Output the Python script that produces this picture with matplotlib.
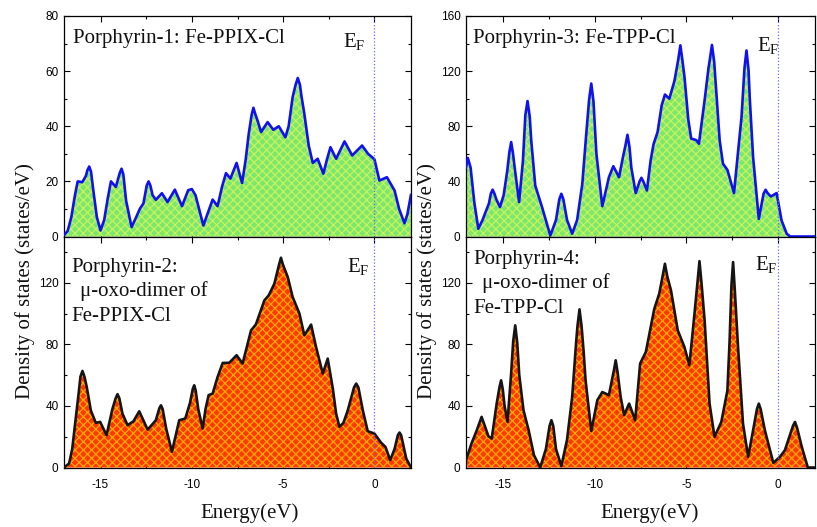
import numpy as np
import matplotlib
matplotlib.use("Agg")
import matplotlib.pyplot as plt
import matplotlib.ticker as ticker

plt.rcParams["font.family"] = ["Liberation Sans", "DejaVu Sans"]
plt.rcParams["mathtext.fontset"] = "custom"
plt.rcParams["mathtext.rm"] = "Liberation Serif"
plt.rcParams["axes.unicode_minus"] = False
plt.rcParams["hatch.linewidth"] = 0.9

# ---- data: (energy eV, DOS states/eV) ----
dos_ppix = [  # Porphyrin-1: Fe-PPIX-Cl
    (-17.0, 0.5), (-16.8, 2), (-16.6, 7), (-16.4, 15), (-16.25, 20), (-16.0, 19.7),
    (-15.8, 22), (-15.72, 24), (-15.62, 25.4), (-15.52, 23.5), (-15.4, 17), (-15.2, 7),
    (-15.0, 2.2), (-14.8, 6), (-14.6, 14), (-14.43, 20), (-14.16, 18), (-13.95, 23),
    (-13.85, 24.6), (-13.75, 22.5), (-13.6, 13), (-13.3, 3.4), (-13.05, 7), (-12.85, 10),
    (-12.65, 12), (-12.47, 18.5), (-12.37, 20), (-12.27, 18.5), (-12.15, 15),
    (-11.97, 13.3), (-11.64, 15.7), (-11.33, 12.5), (-10.93, 17), (-10.54, 11),
    (-10.2, 16.8), (-10.0, 17.2), (-9.8, 15), (-9.37, 4), (-9.1, 9), (-8.86, 13.4),
    (-8.59, 11), (-8.35, 18), (-8.13, 23), (-7.89, 21), (-7.55, 26.7), (-7.25, 19.4),
    (-7.05, 28), (-6.89, 37), (-6.73, 44), (-6.63, 46.7), (-6.53, 44.5), (-6.4, 42),
    (-6.21, 37.9), (-5.85, 41.5), (-5.54, 38.7), (-5.24, 40), (-4.88, 36), (-4.7, 40),
    (-4.48, 50.6), (-4.32, 55), (-4.2, 57.5), (-4.08, 55), (-4.0, 51), (-3.84, 44.5),
    (-3.6, 33), (-3.38, 26.7), (-3.11, 28.2), (-2.8, 22.8), (-2.6, 28), (-2.41, 32.4),
    (-2.1, 28.2), (-1.64, 34.5), (-1.22, 29.4), (-0.68, 33), (-0.35, 30), (0.0, 28),
    (0.27, 20.3), (0.68, 21.5), (1.1, 16.7), (1.35, 10), (1.64, 4.8), (1.8, 8),
    (2.0, 15.2)]

dos_ppix_dimer = [  # Porphyrin-2
    (-17.0, 0), (-16.72, 2.6), (-16.55, 12), (-16.39, 28.5), (-16.2, 48), (-16.1, 59),
    (-15.99, 62.7), (-15.88, 59), (-15.75, 52), (-15.53, 37), (-15.26, 29),
    (-15.02, 29.6), (-14.67, 21), (-14.35, 38), (-14.17, 45), (-14.07, 47.6),
    (-13.97, 45), (-13.8, 35), (-13.52, 27.5), (-13.2, 30), (-12.88, 36.5),
    (-12.42, 24.6), (-11.97, 30.7), (-11.78, 38.5), (-11.69, 40.4), (-11.6, 38),
    (-11.4, 25), (-11.09, 10.2), (-10.9, 20), (-10.69, 30.7), (-10.36, 31.8),
    (-10.1, 42), (-9.95, 51), (-9.87, 53.4), (-9.79, 50), (-9.65, 38), (-9.41, 25.3),
    (-9.25, 38), (-9.08, 47), (-8.86, 48), (-8.59, 58.8), (-8.31, 67.9), (-7.95, 68),
    (-7.55, 72.9), (-7.22, 67.5), (-6.76, 89), (-6.49, 93), (-6.03, 108.5),
    (-5.79, 111.8), (-5.48, 119.4), (-5.22, 132), (-5.12, 136.2), (-5.02, 132),
    (-4.75, 123.7), (-4.48, 110.7), (-4.11, 100), (-3.84, 85.8), (-3.47, 92.8),
    (-3.2, 78.3), (-2.83, 61), (-2.56, 70.7), (-2.28, 51.2), (-2.1, 35), (-1.92, 26.4),
    (-1.7, 29), (-1.46, 37.2), (-1.12, 52), (-1.0, 54.5), (-0.88, 52), (-0.64, 37.2),
    (-0.37, 23.6), (0.0, 22), (0.37, 16), (0.6, 13.4), (0.86, 4.8), (1.1, 12),
    (1.28, 21), (1.37, 22.7), (1.46, 21), (1.74, 5.8), (2.0, 0)]

dos_tpp = [  # Porphyrin-3: Fe-TPP-Cl
    (-17.0, 50), (-16.9, 57), (-16.75, 50), (-16.55, 25), (-16.33, 5.6), (-16.1, 12),
    (-15.97, 16.5), (-15.75, 24), (-15.65, 31), (-15.55, 34), (-15.45, 31),
    (-15.35, 27), (-15.15, 21.3), (-14.95, 30), (-14.75, 48), (-14.64, 61),
    (-14.54, 68.5), (-14.44, 60), (-14.35, 50), (-14.11, 25), (-13.9, 55),
    (-13.77, 88), (-13.65, 98.3), (-13.53, 87), (-13.45, 70), (-13.23, 37),
    (-12.86, 21.3), (-12.41, 0.7), (-12.1, 12), (-11.92, 27), (-11.81, 31),
    (-11.7, 27), (-11.5, 12), (-11.22, 2), (-10.95, 12), (-10.67, 38), (-10.45, 75),
    (-10.3, 99), (-10.18, 111), (-10.06, 98), (-9.9, 60), (-9.58, 22), (-9.22, 43),
    (-8.98, 51), (-8.67, 43), (-8.45, 58), (-8.32, 66), (-8.21, 73.8), (-8.1, 65),
    (-8.0, 50), (-7.76, 31.5), (-7.55, 40), (-7.45, 42.6), (-7.35, 40), (-7.15, 33.4),
    (-6.95, 55), (-6.79, 67), (-6.57, 75.8), (-6.35, 95), (-6.17, 103), (-5.93, 100),
    (-5.65, 113), (-5.45, 128), (-5.33, 138.7), (-5.21, 127), (-5.1, 115), (-4.9, 85),
    (-4.74, 71), (-4.47, 70), (-4.32, 67.3), (-4.01, 98.8), (-3.8, 122), (-3.73, 128),
    (-3.61, 139), (-3.49, 127), (-3.4, 110), (-3.19, 69.7), (-3.01, 52.8),
    (-2.77, 48.4), (-2.41, 31.5), (-2.2, 60), (-2.0, 86.7), (-1.84, 122),
    (-1.73, 135), (-1.62, 121), (-1.55, 100), (-1.37, 57.6), (-1.06, 12.8),
    (-0.8, 31), (-0.69, 33.9), (-0.58, 31.5), (-0.4, 29), (-0.09, 31.5), (0.18, 11.6),
    (0.46, 2), (0.65, 0), (2.0, 0)]

dos_tpp_dimer = [  # Porphyrin-4
    (-17.0, 4.8), (-16.7, 15.6), (-16.42, 24), (-16.15, 32.9), (-15.78, 20.3),
    (-15.6, 18.8), (-15.33, 41.5), (-15.18, 52), (-15.09, 56.6), (-15.0, 51),
    (-14.9, 40), (-14.74, 29.6), (-14.55, 60), (-14.43, 82), (-14.32, 92.3),
    (-14.21, 81), (-14.1, 60), (-13.87, 37.2), (-13.59, 24.2), (-13.3, 8), (-12.96, 0),
    (-12.65, 12), (-12.45, 27), (-12.35, 30.7), (-12.25, 27), (-12.1, 12),
    (-11.81, 0.9), (-11.5, 18), (-11.22, 45.8), (-11.0, 82), (-10.93, 92),
    (-10.82, 102.7), (-10.71, 92), (-10.6, 76), (-10.49, 56.6), (-10.18, 23.6),
    (-9.85, 43.7), (-9.58, 49), (-9.22, 47), (-8.95, 63), (-8.85, 69.6), (-8.75, 62),
    (-8.58, 45.8), (-8.39, 34), (-8.12, 41.5), (-7.79, 30.7), (-7.52, 67.5),
    (-7.21, 75), (-6.75, 103), (-6.48, 112.9), (-6.3, 124), (-6.17, 132.3),
    (-6.04, 124), (-5.84, 115), (-5.47, 89), (-5.11, 78.3), (-4.84, 66.4),
    (-4.56, 100), (-4.4, 120), (-4.29, 134), (-4.18, 120), (-4.01, 95.6),
    (-3.74, 41.5), (-3.47, 19.9), (-3.1, 29.6), (-2.77, 50), (-2.65, 82),
    (-2.55, 118), (-2.46, 133.4), (-2.37, 116), (-2.19, 78.3), (-1.92, 28.5),
    (-1.64, 6.9), (-1.37, 24.2), (-1.16, 38), (-1.06, 41.5), (-0.96, 38),
    (-0.73, 24.2), (-0.27, 3), (0.09, 6.9), (0.36, 11.2), (0.8, 27), (0.91, 29.6),
    (1.02, 26), (1.28, 13.4), (1.61, 0), (2.0, 0)]

titles = {
    "p1": [(73, 43, "Porphyrin-1: Fe-PPIX-Cl")],
    "p2": [(71, 272, "Porphyrin-2:"), (80, 296, "\u03bc-oxo-dimer of"), (71, 321, "Fe-PPIX-Cl")],
    "p3": [(473, 43, "Porphyrin-3: Fe-TPP-Cl")],
    "p4": [(473, 264, "Porphyrin-4:"), (482, 288, "\u03bc-oxo-dimer of"), (473, 313, "Fe-TPP-Cl")],
}
xticks = [-15, -10, -5, 0]

W, H = 817, 527
fig = plt.figure(figsize=(W / 100, H / 100), dpi=100)


def px_axes(l, t, r, b):
    return fig.add_axes([l / W, 1 - b / H, (r - l) / W, (b - t) / H])


def px_text(x, y, s, **kw):
    fig.text(x / W, 1 - y / H, s, **kw)


ax1 = px_axes(64, 16, 411, 236.5)
ax2 = px_axes(64, 236.5, 411, 467.5)
ax3 = px_axes(466, 16, 815, 236.5)
ax4 = px_axes(466, 236.5, 815, 467.5)

green = dict(fc="#7AE86E", hc="#CAF25C", lc="#1010F0")
orange = dict(fc="#FF3800", hc="#FFAA00", lc="#151515")

panels = [
    (ax1, dos_ppix, green, 80, 20, 10),
    (ax2, dos_ppix_dimer, orange, 150, 40, 20),
    (ax3, dos_tpp, green, 160, 40, 20),
    (ax4, dos_tpp_dimer, orange, 150, 40, 20),
]

for ax, data, sty, ymax, ymaj, ymin in panels:
    ee, dd = zip(*data)
    ax.fill_between(ee, dd, 0, facecolor=sty["fc"], edgecolor=sty["hc"],
                    hatch="xxxx", linewidth=0, zorder=2)
    ax.plot(ee, dd, color=sty["lc"], lw=1.9, solid_joinstyle="round",
            solid_capstyle="round", zorder=4)
    ax.axvline(0, color="#6A6AF5", lw=0.9, ls=(0, (1, 1.6)), zorder=5)
    ax.set_xlim(-17, 2)
    ax.set_ylim(0, ymax)
    ax.xaxis.set_major_locator(ticker.FixedLocator(xticks))
    ax.xaxis.set_minor_locator(ticker.MultipleLocator(2.5))
    ax.yaxis.set_major_locator(ticker.MultipleLocator(ymaj))
    ax.yaxis.set_minor_locator(ticker.MultipleLocator(ymin))
    ax.tick_params(which="both", direction="in", top=True, right=True,
                   width=0.8, labelsize=8.5, colors="black")
    ax.tick_params(which="major", length=4.5)
    ax.tick_params(which="minor", length=2.5)
    ax.tick_params(axis="y", pad=4)
    ax.tick_params(axis="x", pad=8)
    for sp in ax.spines.values():
        sp.set_linewidth(0.9)

for ax in (ax1, ax3):
    ax.tick_params(labelbottom=False)
for ax in (ax2, ax4):
    ax.yaxis.set_major_locator(ticker.FixedLocator([0, 40, 80, 120]))

serif = dict(fontfamily="Liberation Serif", fontsize=15, color="#111111")

for lines in titles.values():
    for x, y, s in lines:
        px_text(x, y, s, va="baseline", ha="left", **serif)

for x, y in [(343, 47), (757, 51), (347, 272), (755, 270)]:
    px_text(x, y, r"$\mathrm{E_F}$", va="baseline", ha="left", **serif)

for x in (25, 427):
    px_text(x, 281, "Density of states (states/eV)", rotation=90,
            va="center", ha="center", **serif)
for x in (250, 650):
    px_text(x, 513, "Energy(eV)", va="center", ha="center", **serif)

fig.savefig("out.png", dpi=100, facecolor="white")
